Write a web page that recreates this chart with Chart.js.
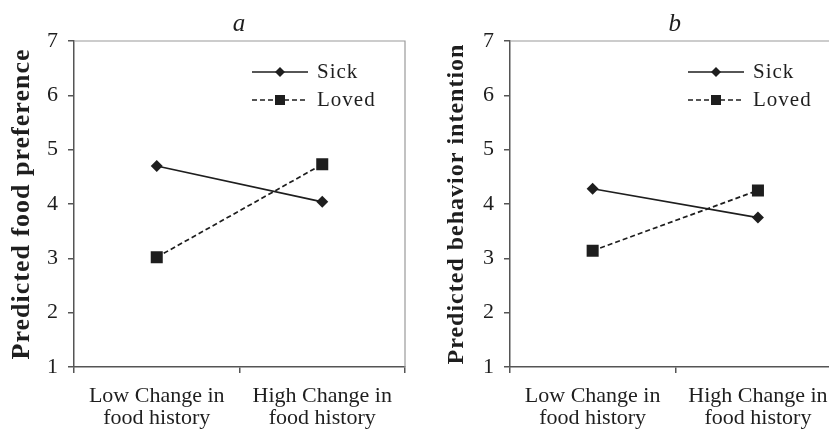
<!DOCTYPE html>
<html>
<head>
<meta charset="utf-8">
<script src="https://cdn.jsdelivr.net/npm/chart.js"></script>
<style>
  html, body { margin: 0; padding: 0; background: #fff; overflow: hidden; }
  #wrap { position: relative; width: 829px; height: 435px; overflow: hidden; }
  #boxA { position: absolute; left: 0; top: 0; width: 415px; height: 435px; }
  #boxB { position: absolute; left: 415px; top: 0; width: 440px; height: 435px; }
</style>
</head>
<body>
<div id="wrap">
  <div id="boxA"><canvas id="chartA" width="415" height="435"></canvas></div>
  <div id="boxB"><canvas id="chartB" width="440" height="435"></canvas></div>
</div>
<script>
// data
const categories = [["Low Change in", "food history"], ["High Change in", "food history"]];
const seriesNames = ["Sick", "Loved"];
const sickA = [4.70, 4.04];
const lovedA = [3.02, 4.73];
const sickB = [4.28, 3.75];
const lovedB = [3.14, 4.25];
const yTicks = [1, 2, 3, 4, 5, 6, 7];

const SERIF = "'Liberation Serif', 'Times New Roman', serif";
const INK = "#1e1e1e";
const AXIS = "#555555";

// y titles in the print are loosely set; x tick labels (ticks.z 1) come after the reset
const spacing = {
  id: "spacing",
  beforeDraw(chart) { chart.ctx.letterSpacing = "1px"; },
  afterDatasetsDraw(chart) { chart.ctx.letterSpacing = "0px"; }
};

// gray frame on top and right of plot area
const frame = {
  id: "frame",
  beforeDatasetsDraw(chart) {
    const { ctx, chartArea: a } = chart;
    ctx.save();
    ctx.strokeStyle = "#9a9a9a";
    ctx.lineWidth = 1.2;
    ctx.beginPath();
    ctx.moveTo(a.left, a.top);
    ctx.lineTo(a.right, a.top);
    ctx.lineTo(a.right, a.bottom);
    ctx.stroke();
    ctx.restore();
  }
};

// legend drawn inside the plot, line + marker + label
const innerLegend = {
  id: "innerLegend",
  afterDatasetsDraw(chart) {
    const { ctx, chartArea: a } = chart;
    chart.data.datasets.forEach((ds, i) => {
      const y = a.top + 31 + i * 28;
      const x0 = a.left + 178, x1 = a.left + 234, xm = (x0 + x1) / 2;
      ctx.save();
      ctx.strokeStyle = ds.borderColor;
      ctx.lineWidth = ds.borderWidth;
      ctx.setLineDash(ds.borderDash || []);
      ctx.beginPath();
      ctx.moveTo(x0, y);
      ctx.lineTo(x1, y);
      ctx.stroke();
      ctx.setLineDash([]);
      ctx.fillStyle = ds.pointBackgroundColor;
      ctx.beginPath();
      if (ds.pointStyle === "rectRot") {
        ctx.moveTo(xm, y - 5); ctx.lineTo(xm + 5, y); ctx.lineTo(xm, y + 5); ctx.lineTo(xm - 5, y);
        ctx.closePath();
      } else {
        ctx.rect(xm - 5, y - 5, 10, 10);
      }
      ctx.fill();
      ctx.fillStyle = INK;
      ctx.font = "21px " + SERIF;
      ctx.letterSpacing = "1px";
      ctx.textBaseline = "middle";
      ctx.textAlign = "left";
      ctx.fillText(ds.label, a.left + 243, y);
      ctx.restore();
    });
  }
};

function makeChart(id, title, yTitle, sick, loved, yWidth, yTitleSize, yTitleOffset, rightPad) {
  return new Chart(document.getElementById(id), {
    type: "line",
    data: {
      labels: categories,
      datasets: [
        {
          label: seriesNames[0],
          data: sick,
          borderColor: INK,
          borderWidth: 1.7,
          pointStyle: "rectRot",
          pointRadius: 6,
          pointBackgroundColor: INK,
          pointBorderWidth: 0
        },
        {
          label: seriesNames[1],
          data: loved,
          borderColor: INK,
          borderWidth: 1.7,
          borderDash: [5, 3],
          pointStyle: "rect",
          pointRadius: 8.5,
          pointBackgroundColor: INK,
          pointBorderWidth: 0
        }
      ]
    },
    options: {
      responsive: false,
      animation: false,
      layout: { padding: { left: 0, right: rightPad, top: 0, bottom: 0 } },
      plugins: {
        legend: { display: false },
        tooltip: { enabled: false },
        title: {
          display: true,
          text: title,
          fullSize: false,
          color: INK,
          font: { family: SERIF, size: 25, style: "italic", weight: "normal", lineHeight: 1.2 },
          padding: { top: 9, bottom: 2 }
        }
      },
      scales: {
        x: {
          offset: true,
          grid: { offset: true, drawOnChartArea: false, drawTicks: true, tickLength: 6, color: AXIS, lineWidth: 1.5 },
          border: { color: AXIS, width: 1.5 },
          ticks: { z: 1, color: INK, padding: 12, maxRotation: 0, autoSkip: false,
                   font: { family: SERIF, size: 22, lineHeight: 1.0 } },
          afterFit(s) { s.height = 68; }
        },
        y: {
          min: yTicks[0],
          max: yTicks[yTicks.length - 1],
          afterBuildTicks(s) { s.ticks = yTicks.map(v => ({ value: v })); },
          grid: { drawOnChartArea: false, drawTicks: true, tickLength: 6, color: AXIS, lineWidth: 1.5 },
          border: { color: AXIS, width: 1.5 },
          ticks: { color: INK, padding: 9, font: { family: SERIF, size: 22 } },
          title: {
            display: true,
            text: yTitle,
            color: INK,
            font: { family: SERIF, size: yTitleSize, weight: "bold", lineHeight: 1.2 },
            padding: { top: yTitleOffset, bottom: 0 }
          },
          afterFit(s) { s.width = yWidth; }
        }
      }
    },
    plugins: [spacing, frame, innerLegend]
  });
}

makeChart("chartA", "a", "Predicted food preference", sickA, lovedA, 74, 26, 6.4, 10);
makeChart("chartB", "b", "Predicted behavior intention", sickB, lovedB, 95, 24, 27.6, 14.4);
</script>
</body>
</html>
